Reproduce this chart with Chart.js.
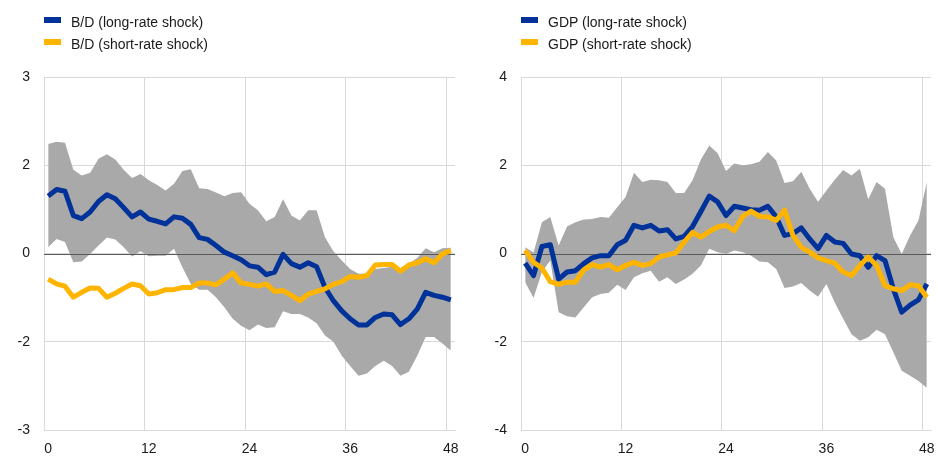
<!DOCTYPE html>
<html>
<head>
<meta charset="utf-8">
<script src="https://cdn.jsdelivr.net/npm/chart.js@4"></script>
<style>
  body { margin: 0; background: #fff; font-family: "Liberation Sans", Arial, sans-serif; }
  .panel { position: absolute; top: 0; height: 457px; }
  .legend { position: absolute; left: 44px; top: 12px; font-size: 14px; color: #1a1a1a; }
  .legend div { height: 22px; line-height: 20px; white-space: nowrap; }
  .legend span { display: inline-block; width: 17px; height: 6px; margin-right: 10px; vertical-align: 4px; }
</style>
</head>
<body>
<div class="panel" style="left:0;width:469px">
  <canvas id="bd" width="469" height="457"></canvas>
  <div class="legend" id="bdLegend"></div>
</div>
<div class="panel" style="left:477px;width:461px">
  <canvas id="gdp" width="461" height="457"></canvas>
  <div class="legend" id="gdpLegend"></div>
</div>
<script>
// months after the shock
const months = ['0','1','2','3','4','5','6','7','8','9','10','11','12','13','14','15','16','17','18','19',
  '20','21','22','23','24','25','26','27','28','29','30','31','32','33','34','35','36','37','38','39',
  '40','41','42','43','44','45','46','47','48'];

// left panel: B/D
const bdLong = [1.30,1.45,1.41,0.86,0.79,0.94,1.18,1.33,1.24,1.04, 0.83,0.94,0.78,0.73,0.67,0.83,0.80,0.66,0.36,0.32,
  0.18,0.03,-0.05,-0.14,-0.28,-0.31,-0.48,-0.42,-0.02,-0.23, -0.31,-0.21,-0.30,-0.77,-1.07,-1.30,-1.48,-1.62,-1.62,-1.45,
  -1.37,-1.39,-1.61,-1.48,-1.26,-0.88,-0.95,-0.99,-1.05];
const bdShort = [-0.58,-0.69,-0.74,-0.99,-0.88,-0.78,-0.79,-0.99,-0.90,-0.79, -0.69,-0.73,-0.92,-0.89,-0.82,-0.82,-0.77,-0.77,-0.67,-0.67,
  -0.71,-0.58,-0.44,-0.67,-0.70,-0.74,-0.69,-0.86,-0.84,-0.95, -1.07,-0.92,-0.86,-0.80,-0.70,-0.64,-0.52,-0.54,-0.50,-0.26,
  -0.25,-0.25,-0.40,-0.26,-0.21,-0.12,-0.21,-0.01,0.07];
const bdUpper = [2.48,2.53,2.51,1.90,1.77,1.83,2.15,2.25,2.13,1.90, 1.71,1.80,1.66,1.55,1.43,1.58,1.87,1.91,1.48,1.46,
  1.38,1.30,1.37,1.39,1.13,0.98,0.73,0.83,1.23,0.86, 0.75,0.98,0.98,0.37,0.05,-0.16,-0.35,-0.46,-0.46,-0.35,
  -0.33,-0.30,-0.33,-0.23,-0.10,0.12,0.03,0.12,0.13];
const bdLower = [0.14,0.33,0.26,-0.20,-0.18,-0.01,0.18,0.36,0.32,0.14, -0.07,0.05,-0.06,-0.05,-0.05,0.11,-0.31,-0.69,-0.82,-0.82,
  -0.99,-1.22,-1.48,-1.64,-1.74,-1.61,-1.69,-1.67,-1.31,-1.37, -1.37,-1.45,-1.58,-1.86,-2.00,-2.32,-2.55,-2.77,-2.72,-2.55,
  -2.43,-2.55,-2.77,-2.68,-2.32,-1.89,-1.89,-2.04,-2.20];
const bdYLabels = ['-3','-2','0','2','3']; // as printed on the original axis

// right panel: GDP
const gdpLong = [-0.22,-0.50,0.16,0.20,-0.58,-0.42,-0.39,-0.23,-0.10,-0.05, -0.05,0.20,0.30,0.64,0.58,0.64,0.51,0.54,0.33,0.39,
  0.61,0.95,1.30,1.17,0.86,1.07,1.03,0.99,0.98,1.07, 0.83,0.41,0.45,0.58,0.33,0.11,0.41,0.26,0.23,-0.01,
  -0.05,-0.31,-0.05,-0.16,-0.80,-1.33,-1.17,-1.05,-0.69];
const gdpShort = [0.07,-0.20,-0.33,-0.64,-0.70,-0.65,-0.65,-0.37,-0.25,-0.31, -0.25,-0.37,-0.27,-0.20,-0.27,-0.23,-0.08,-0.03,0.01,0.26,
  0.48,0.37,0.50,0.60,0.64,0.52,0.84,0.96,0.84,0.83, 0.75,0.98,0.41,0.14,0.03,-0.10,-0.16,-0.22,-0.42,-0.50,
  -0.27,-0.08,-0.27,-0.73,-0.80,-0.84,-0.71,-0.73,-0.99];
const gdpUpper = [0.14,0.02,0.71,0.83,0.18,0.61,0.71,0.77,0.78,0.83, 0.81,1.05,1.28,1.83,1.62,1.67,1.66,1.62,1.37,1.37,
  1.66,2.13,2.45,2.27,1.87,2.04,2.00,2.02,2.08,2.30, 2.11,1.60,1.64,1.85,1.47,1.17,1.43,1.67,1.89,1.77,
  1.92,1.23,1.62,1.47,0.37,-0.01,0.41,0.75,1.62];
const gdpLower = [-0.65,-1.01,-0.42,-0.16,-1.33,-1.42,-1.45,-1.22,-0.99,-0.92, -0.89,-0.71,-0.83,-0.54,-0.45,-0.39,-0.64,-0.54,-0.69,-0.59,
  -0.46,-0.27,0.11,0.03,-0.01,0.07,0.03,-0.05,-0.18,-0.20, -0.35,-0.78,-0.75,-0.67,-0.84,-0.98,-0.69,-1.11,-1.48,-1.83,
  -1.98,-1.90,-1.73,-1.83,-2.24,-2.66,-2.77,-2.89,-3.04];
const gdpYLabels = ['-4','-2','0','2','4'];

const BLUE = '#003299';
const YELLOW = '#ffb400';
const BAND = '#a9a9a9';
const GRID = '#d9d9d9';

Chart.defaults.font.family = '"Liberation Sans", Arial, sans-serif';
Chart.defaults.font.size = 14;
Chart.defaults.color = '#1a1a1a';

// zero line sits above the grey band but under the two lines
const zeroLine = {
  id: 'zeroLine',
  beforeDatasetDraw(chart, args) {
    if (args.index !== 0) return;
    const { ctx, chartArea, scales } = chart;
    const y = Math.round(scales.y.getPixelForValue(0)) + 0.5;
    ctx.save();
    ctx.strokeStyle = '#595959';
    ctx.lineWidth = 1;
    ctx.beginPath();
    ctx.moveTo(chartArea.left, y);
    ctx.lineTo(chartArea.right, y);
    ctx.stroke();
    ctx.restore();
  }
};

function buildLegend(id, names) {
  const el = document.getElementById(id);
  el.innerHTML = names.map((n, i) =>
    '<div><span style="background:' + [BLUE, YELLOW][i] + '"></span>' + n + '</div>').join('');
}

function makeChart(id, longData, shortData, upper, lower, yLabels, padRight) {
  const ctx = document.getElementById(id).getContext('2d');
  return new Chart(ctx, {
    type: 'line',
    data: {
      labels: months,
      datasets: [
        { data: longData, borderColor: BLUE, borderWidth: 5, pointRadius: 0, order: 1, fill: false },
        { data: shortData, borderColor: YELLOW, borderWidth: 5, pointRadius: 0, order: 0, fill: false },
        { data: upper, borderWidth: 0, borderColor: BAND, backgroundColor: BAND, pointRadius: 0, order: 2, fill: '+1' },
        { data: lower, borderWidth: 0, borderColor: BAND, pointRadius: 0, order: 2, fill: false },
      ],
    },
    options: {
      responsive: false,
      animation: false,
      devicePixelRatio: 1,
      elements: { line: { tension: 0, borderJoinStyle: 'round' } },
      layout: { autoPadding: false, padding: { top: 77, right: padRight, bottom: 0, left: 0 } },
      plugins: { legend: { display: false }, tooltip: { enabled: false } },
      scales: {
        x: {
          type: 'category',
          offset: true,
          afterFit: (s) => { s.height = 27; s.paddingLeft = 0; s.paddingRight = 0; },
          grid: {
            offset: true,
            drawTicks: false,
            color: (c) => (c.index % 12 === 0 ? GRID : 'rgba(0,0,0,0)'),
          },
          border: { color: GRID },
          ticks: {
            autoSkip: false,
            maxRotation: 0,
            padding: 11,
            callback: (v, i) => (i % 12 === 0 ? months[i] : ''),
          },
        },
        y: {
          min: -4,
          max: 4,
          afterFit: (s) => { s.width = 44; s.paddingTop = 0; s.paddingBottom = 0; },
          grid: { drawTicks: false, color: GRID },
          border: { color: GRID },
          ticks: {
            stepSize: 2,
            padding: 14,
            callback: (v, i) => yLabels[i],
          },
        },
      },
    },
    plugins: [zeroLine],
  });
}

buildLegend('bdLegend', ['B/D (long-rate shock)', 'B/D (short-rate shock)']);
buildLegend('gdpLegend', ['GDP (long-rate shock)', 'GDP (short-rate shock)']);
makeChart('bd', bdLong, bdShort, bdUpper, bdLower, bdYLabels, 14);
makeChart('gdp', gdpLong, gdpShort, gdpUpper, gdpLower, gdpYLabels, 7);
</script>
</body>
</html>
